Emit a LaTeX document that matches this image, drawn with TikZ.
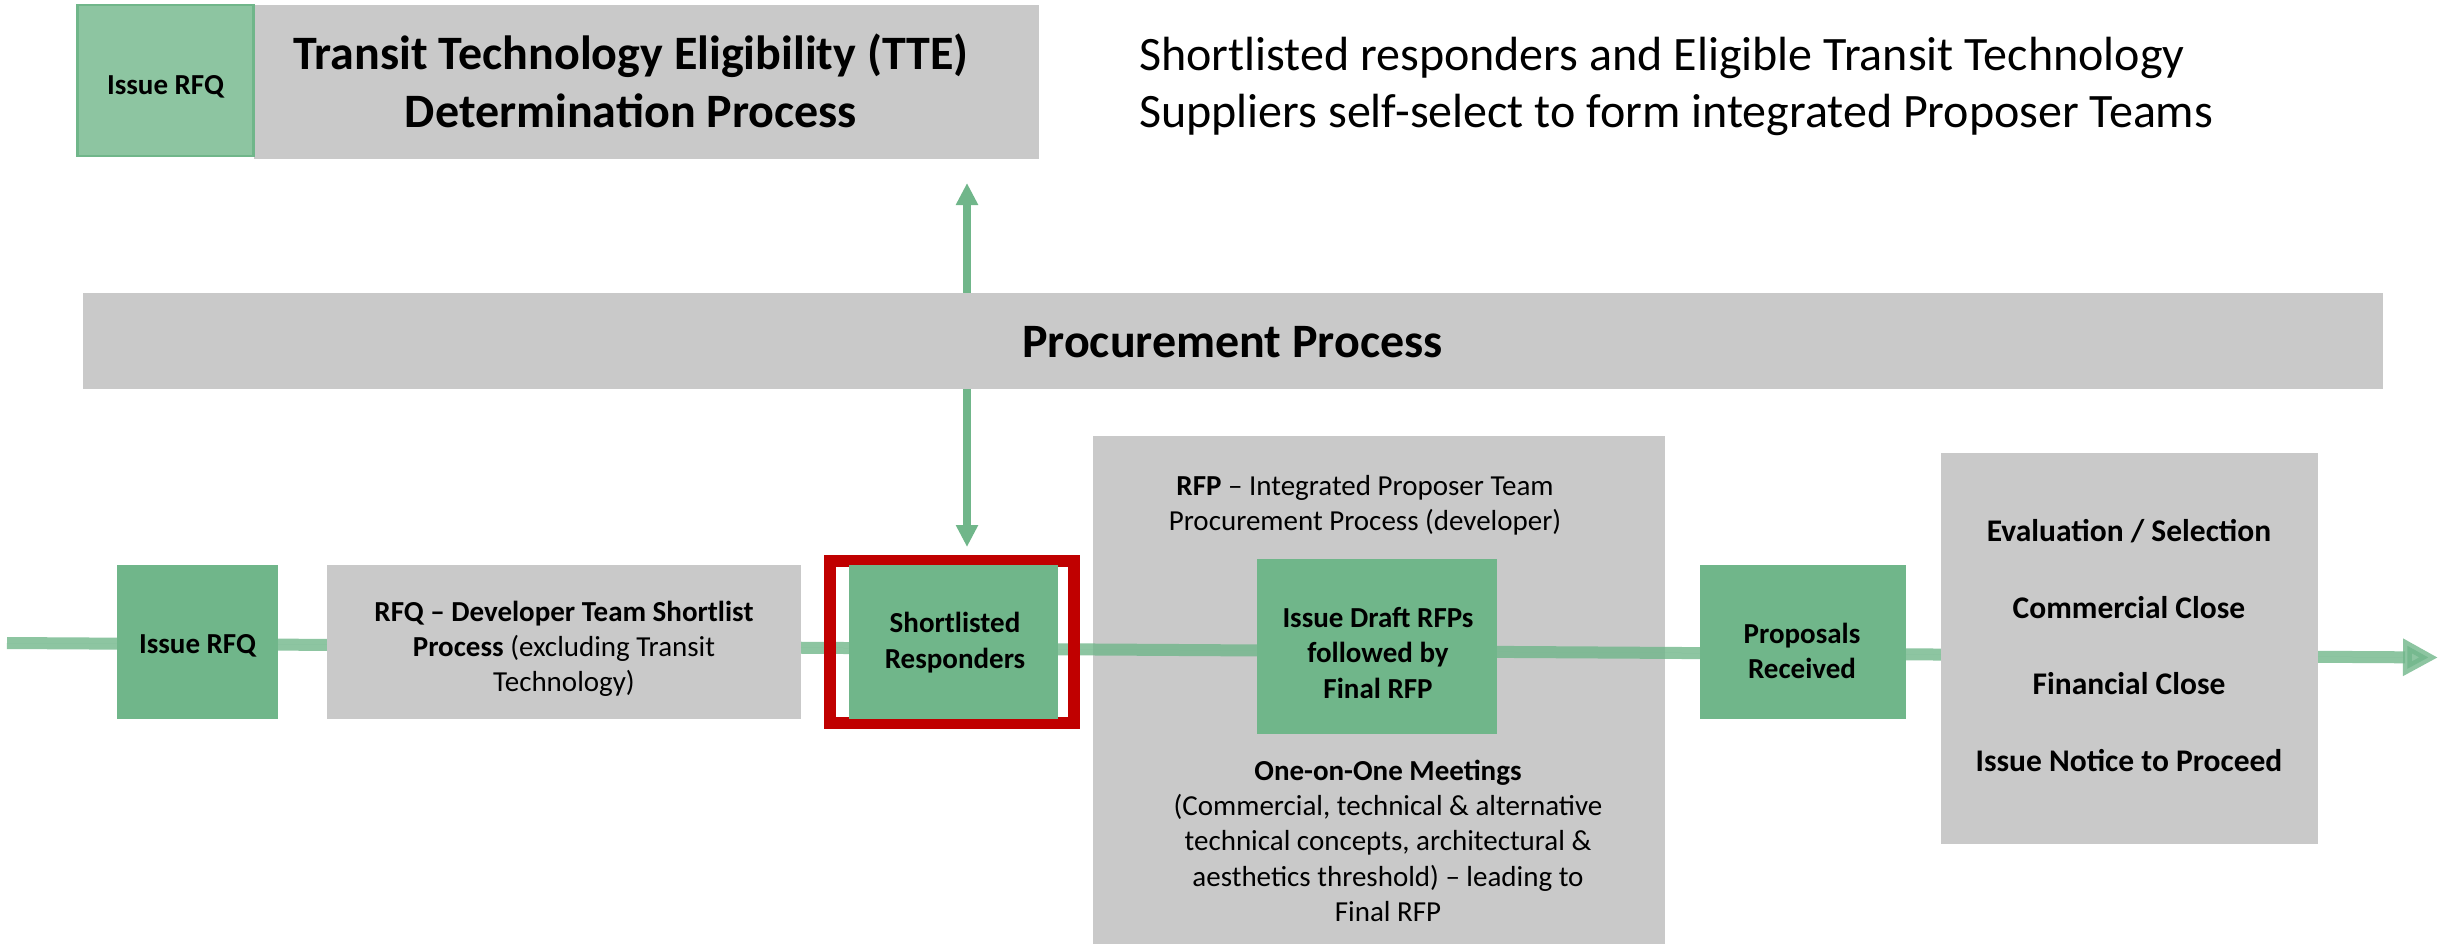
\documentclass[tikz,border=0pt]{standalone}
\usepackage{fontspec}
\setmainfont{Carlito}
\usetikzlibrary{arrows.meta}
\definecolor{boxgreen}{HTML}{70B68A}
\definecolor{boxgray}{HTML}{C9C9C9}
\definecolor{hired}{HTML}{C00000}
\tikzset{
  txt/.style={align=center, inner sep=0pt, execute at begin node=\strut, execute at end node=\strut},
  greenbox/.style={fill=boxgreen, draw=none, inner sep=0pt},
  graybox/.style={fill=boxgray, draw=none, inner sep=0pt},
  flow/.style={draw=boxgreen, draw opacity=0.8, fill opacity=0.8, fill=boxgreen, line width=12pt,
    -{Triangle[length=35pt,width=35pt]}},
  vflow/.style={draw=boxgreen, fill=boxgreen, line width=7.5pt,
    {Triangle[length=22pt,width=21pt]}-{Triangle[length=22pt,width=21pt]}},
}
\begin{document}
\begin{tikzpicture}[x=1pt,y=-1pt]
\useasboundingbox (0,0) rectangle (2453,943);
% top boxes
\node[graybox, minimum width=785pt, minimum height=154pt] (tte) at (646.5,82) {};
\node[fill=boxgreen, fill opacity=0.8, draw=boxgreen, line width=2.5pt, minimum width=176pt, minimum height=151pt, inner sep=0pt] (topiss) at (165.5,80.5) {};
\node[txt, font=\fontsize{29}{35.5}\selectfont\bfseries] (topisst) at (165.5,87) {Issue RFQ};
\node[txt, font=\fontsize{48}{58}\selectfont\bfseries] (ttet) at (631,89) {Transit Technology Eligibility (TTE)\\Determination Process};
\node[txt, align=left, anchor=west, font=\fontsize{48}{57}\selectfont] (note) at (1139,91) {Shortlisted responders and Eligible Transit Technology\\Suppliers self-select to form integrated Proposer Teams};
% RFP big box (under the flow line)
\node[graybox, minimum width=572pt, minimum height=520pt] (rfp) at (1379,696) {};
% vertical double arrow (behind procurement box)
\coordinate (vtop) at (967,183);
\coordinate (vbot) at (967,547);
\draw[vflow] (vtop) -- (vbot);
% procurement box
\node[graybox, minimum width=2300pt, minimum height=96pt] (proc) at (1233,341) {};
\node[txt, font=\fontsize{48}{58}\selectfont\bfseries] (proct) at (1232.5,346) {Procurement Process};
% flow line
\coordinate (start) at (7,643);
\coordinate (end) at (2438,657.5);
\draw[flow] (start) -- (end);
% lower boxes
\node[greenbox, minimum width=161pt, minimum height=154pt] (iss) at (197.5,642) {};
\node[graybox, minimum width=474pt, minimum height=154pt] (rfq) at (564,642) {};
\node[draw=hired, line width=12pt, minimum width=244pt, minimum height=162pt, inner sep=0pt] (red) at (952,642) {};
\node[greenbox, minimum width=209pt, minimum height=154pt] (short) at (953.5,642) {};
\node[greenbox, minimum width=240pt, minimum height=175pt] (draft) at (1377,646.5) {};
\node[greenbox, minimum width=206pt, minimum height=154pt] (prop) at (1803,642) {};
\node[graybox, minimum width=377pt, minimum height=391pt] (eval) at (2129.5,648.5) {};
% texts
\node[txt, font=\fontsize{29}{35.5}\selectfont\bfseries] (isst) at (197.5,646) {Issue RFQ};
\node[txt, font=\fontsize{29}{35}\selectfont] (rfqt) at (564,652) {\textbf{RFQ – Developer Team Shortlist}\\\textbf{Process} (excluding Transit\\Technology)};
\node[txt, font=\fontsize{29}{35.5}\selectfont\bfseries] (shortt) at (955,645.5) {Shortlisted\\Responders};
\node[txt, font=\fontsize{29}{35.5}\selectfont] (rfpt) at (1365,508) {\textbf{RFP} – Integrated Proposer Team\\Procurement Process (developer)};
\node[txt, font=\fontsize{29}{35.5}\selectfont\bfseries] (draftt) at (1378,658) {Issue Draft RFPs\\followed by\\Final RFP};
\node[txt, font=\fontsize{29}{35.3}\selectfont] (meett) at (1388,846) {\textbf{One-on-One Meetings}\\(Commercial, technical \& alternative\\technical concepts, architectural \&\\aesthetics threshold) – leading to\\Final RFP};
\node[txt, font=\fontsize{29}{35.5}\selectfont\bfseries] (propt) at (1802,656) {Proposals\\Received};
\node[txt, font=\fontsize{31.5}{76.5}\selectfont\bfseries] (evalt) at (2129,657) {Evaluation / Selection\\Commercial Close\\Financial Close\\Issue Notice to Proceed};
\end{tikzpicture}
\end{document}
